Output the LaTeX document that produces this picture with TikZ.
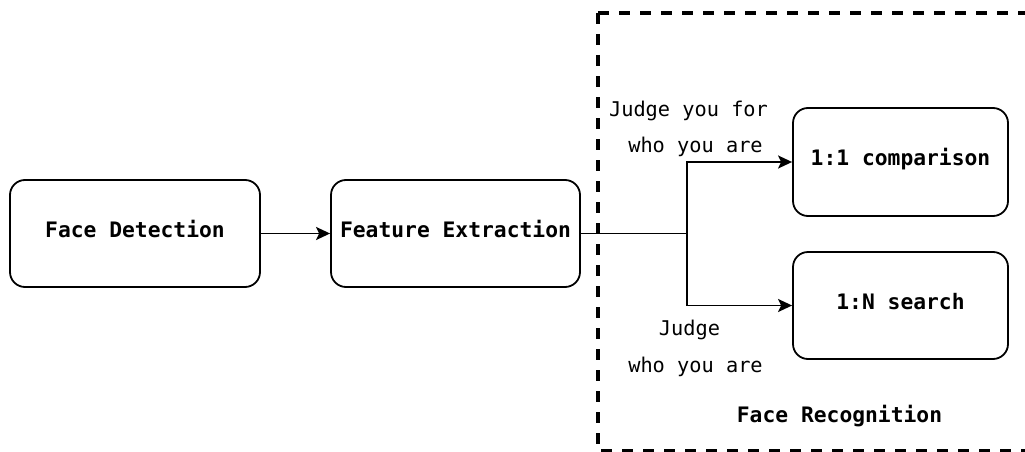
\documentclass[tikz,border=0pt]{standalone}
\usepackage{fontspec}
\setmonofont{DejaVu Sans Mono}
\usetikzlibrary{arrows.meta}
\tikzset{
  stepbox/.style={draw, line width=1.8pt, rounded corners=15pt, inner sep=0pt,
    font=\ttfamily\bfseries\fontsize{21.3}{24}\selectfont,
    text height=0.73em, text depth=0pt},
  flow/.style={line width=1.8pt},
  flowarrow/.style={flow, -{Stealth[length=14pt,width=13pt,inset=3pt]}},
  note/.style={anchor=base, inner sep=0pt, font=\ttfamily\fontsize{20.3}{24}\selectfont},
  grouplabel/.style={anchor=base, inner sep=0pt, font=\ttfamily\bfseries\fontsize{21.3}{24}\selectfont},
  groupframe/.style={line width=3.2pt, dash pattern=on 11pt off 10pt}
}
\begin{document}
\begin{tikzpicture}[x=1pt, y=-1pt]
\useasboundingbox (0,0) rectangle (1025,452);
\begin{scope}
  \clip (0,0) rectangle (1025,452);
  % recognition group frame (runs past the right edge)
  \draw[groupframe] (598,13) -- (1060,13);
  \draw[groupframe] (598,13) -- (598,451) -- (1060,451);
\end{scope}

% pipeline stages
\node[stepbox, minimum width=250pt, minimum height=107pt] (det) at (135,233.5) {Face Detection};
\node[stepbox, minimum width=249pt, minimum height=107pt] (ext) at (455.5,233.5) {Feature Extraction};
\node[stepbox, minimum width=215pt, minimum height=108pt] (cmp) at (900.5,162) {1:1 comparison};
\node[stepbox, minimum width=215pt, minimum height=107pt] (srch) at (900.5,305.5) {1:N search};

% connectors
\draw[flowarrow] (det.east) -- (ext.west);
\coordinate (split) at (687,233.5);
\draw[flow] (ext.east) -- (split);
\draw[flowarrow] (split) |- (cmp.west);
\draw[flowarrow] (split) |- (srch.west);

% branch notes
\node[note] (n1a) at (688.5,116) {Judge you for};
\node[note] (n1b) at (695.5,152.7) {who you are};
\node[note] (n2a) at (689.5,335.7) {Judge};
\node[note] (n2b) at (695.5,372.7) {who you are};

\node[grouplabel] (grp) at (839.5,422.7) {Face Recognition};
\end{tikzpicture}
\end{document}
